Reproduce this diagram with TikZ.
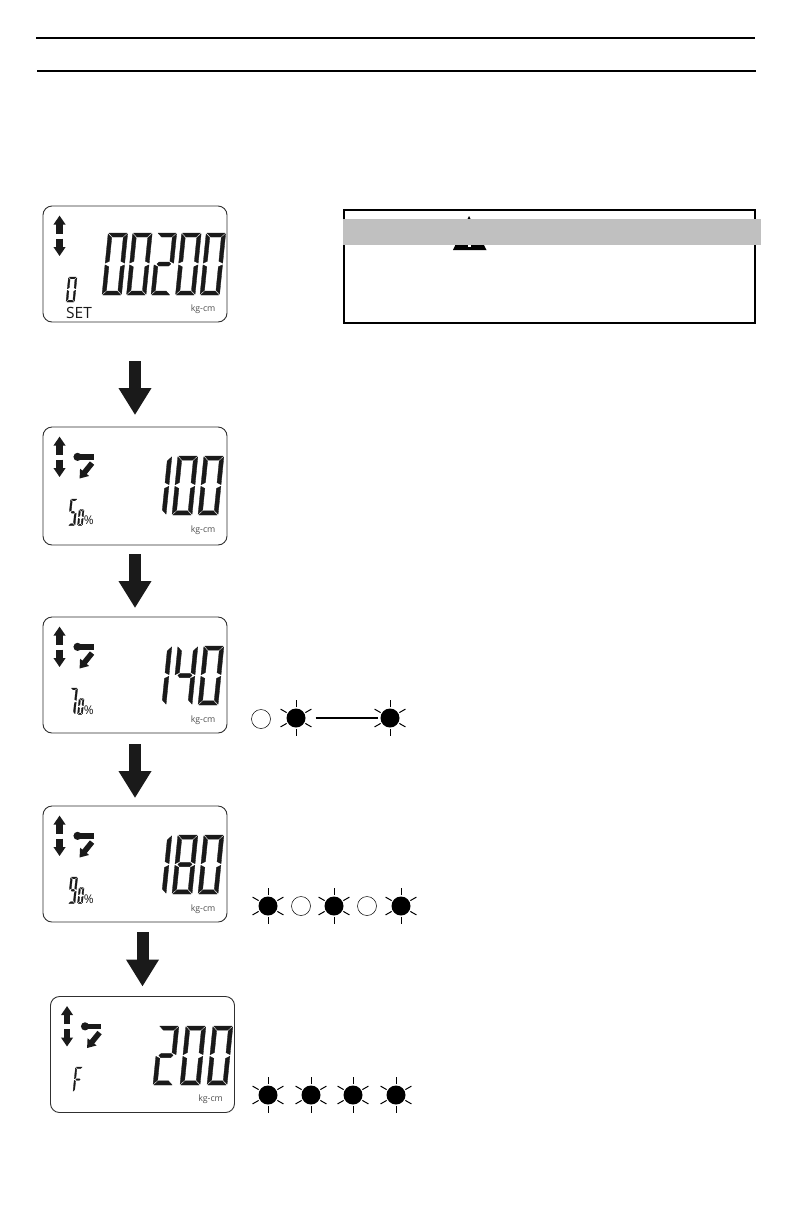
\documentclass[tikz,border=0pt]{standalone}
\usepackage{fontspec}
\setmainfont{Open Sans}
\usetikzlibrary{arrows.meta}
\definecolor{inkblack}{HTML}{1A1A1A}
\definecolor{bargray}{HTML}{C0C0C0}
\definecolor{lcdline}{HTML}{303030}
\definecolor{unitgray}{HTML}{505050}
\tikzset{
  x=1pt,y=-1pt,
  lcdbox/.style={draw=lcdline,line width=0.9pt,rounded corners=9pt,minimum width=184pt,minimum height=116pt,inner sep=0pt,fill=white},
  rule/.style={line width=2pt,black},
  bigarrow/.style={line width=12pt,inkblack,-{Triangle[width=31pt,length=27pt]}},
  tinyarrow/.style={line width=6.5pt,inkblack,-{Triangle[width=11.5pt,length=9pt]}},
  turnarrow/.style={line width=5.5pt,inkblack,-{Triangle[width=11pt,length=8pt]}},
  led/.style={circle,inner sep=0pt,minimum size=19pt},
  ledlit/.style={led,fill=black},
  ledoff/.style={led,draw=black,line width=0.5pt},
  lcdtext/.style={inner sep=0pt,anchor=base west,text=inkblack},
}
\def\dA{b,c}
\def\dB{a,b,c,d,e,f}
\def\dC{a,b,g,e,d}
\def\dD{b,c,f,g}
\def\dE{a,b,c,d,e,f,g}
\def\dF{a,b,c,d,f,g}
\def\dG{a,b,c}
\def\dH{a,f,g,c,d}
\def\dI{a,f,g,e}
\def\lsega{(\G,-\H)--(\W-\G,-\H)--(\W-\G-\T,-\H+\T)--(\G+\T,-\H+\T)--cycle}
\def\lsegd{(\G,0)--(\W-\G,0)--(\W-\G-\T,-\T)--(\G+\T,-\T)--cycle}
\def\lsegg{(\G+.5*\T,-\H/2)--(\G+\T,-\H/2-.5*\T)--(\W-\G-\T,-\H/2-.5*\T)--(\W-\G-.5*\T,-\H/2)--(\W-\G-\T,-\H/2+.5*\T)--(\G+\T,-\H/2+.5*\T)--cycle}
\def\lsegf{(0,-\H+\G)--(\T,-\H+\G+\T)--(\T,-\H/2-\G-.5*\T)--(0,-\H/2-\G)--cycle}
\def\lsege{(0,-\H/2+\G)--(\T,-\H/2+\G+.5*\T)--(\T,-\G-\T)--(0,-\G)--cycle}
\def\lsegb{(\W,-\H+\G)--(\W-\T,-\H+\G+\T)--(\W-\T,-\H/2-\G-.5*\T)--(\W,-\H/2-\G)--cycle}
\def\lsegc{(\W,-\H/2+\G)--(\W-\T,-\H/2+\G+.5*\T)--(\W-\T,-\G-\T)--(\W,-\G)--cycle}
% x of bottom left, y of bottom, width, height, thickness, segments
\newcommand\lcddigit[6]{%
  \begin{scope}[shift={(#1,#2)},xslant=0.1]
    \def\W{#3}\def\H{#4}\def\T{#5}\def\G{0.8}
    \foreach \s in #6 {%
      \expandafter\let\expandafter\cursegment\csname lseg\s\endcsname
      \filldraw[inkblack,line width=0.3pt,line join=round] \cursegment;
    }
  \end{scope}}
% up and down arrows and unit text; #1 = box name
\newcommand\lcdcommon[1]{%
  \begin{scope}[shift={(#1.north west)}]
    \coordinate (#1-ua) at (17,28); \coordinate (#1-ub) at (17,10);
    \coordinate (#1-da) at (17,33); \coordinate (#1-db) at (17,50.5);
    \draw[tinyarrow] (#1-ua) -- (#1-ub);
    \draw[tinyarrow] (#1-da) -- (#1-db);
    \node[lcdtext,font=\fontsize{8.8}{9}\selectfont,text=unitgray] (#1-unit) at (148,105.5) {kg-cm};
  \end{scope}}
\newcommand\lcdwrench[1]{%
  \begin{scope}[shift={(#1.north west)}]
    \fill[inkblack] (35,30.3) circle (4.1);
    \fill[inkblack] (35,27.5) rectangle (51,33);
    \coordinate (#1-ta) at (49.5,36.5); \coordinate (#1-tb) at (37,52);
    \draw[turnarrow] (#1-ta) -- (#1-tb);
  \end{scope}}
% percent text at box-relative position
\newcommand\lcdpct[1]{%
  \begin{scope}[shift={(#1.north west)}]
    \node[lcdtext,font=\fontsize{12}{12}\selectfont] (#1-pct) at (41,98) {\%};
  \end{scope}}
% rays of a lit LED
\newcommand\ledrays[1]{%
  \foreach \a in {30,90,150,210,270,330}
    \draw[black,line width=1pt] (#1.center) ++(\a:10.8) -- ++(\a:7);}
\begin{document}
\begin{tikzpicture}
\useasboundingbox (0,0) rectangle (792,1224);
\fill[white] (0,0) rectangle (792,1224);

% header rules
\coordinate (r1a) at (36,38); \coordinate (r1b) at (755,38);
\coordinate (r2a) at (37,71); \coordinate (r2b) at (756,71);
\draw[rule] (r1a) -- (r1b);
\draw[rule] (r2a) -- (r2b);

% warning box
\fill[black] (469,216) -- (486.5,250) -- (453,250) -- cycle;
\fill[bargray] (344,219) rectangle (761,245);
\fill[white] (467.5,245) rectangle (470.5,247);
\node[draw=black,line width=2pt,minimum width=411pt,minimum height=113pt,inner sep=0pt] (warn) at (549.5,266.5) {};
\fill[bargray] (343,219) rectangle (761,245);

% LCD boxes
\node[lcdbox] (lcd1) at (135,264) {};
\node[lcdbox,minimum height=118pt] (lcd2) at (135,486) {};
\node[lcdbox] (lcd3) at (135,675) {};
\node[lcdbox] (lcd4) at (135,864) {};
\node[lcdbox] (lcd5) at (142.5,1054.5) {};

% box 1
\lcdcommon{lcd1}
\lcddigit{102}{295}{19.5}{62}{4}{\dB}
\lcddigit{126.5}{295}{19.5}{62}{4}{\dB}
\lcddigit{151}{295}{19.5}{62}{4}{\dC}
\lcddigit{175.5}{295}{19.5}{62}{4}{\dB}
\lcddigit{200}{295}{19.5}{62}{4}{\dB}
\lcddigit{66}{302}{8.5}{25}{1.8}{\dB}
\node[lcdtext,font=\fontsize{15.5}{15.5}\selectfont] (lcd1-set) at (66,318) {SET};

% box 2
\lcdcommon{lcd2} \lcdwrench{lcd2} \lcdpct{lcd2}
\lcddigit{146}{515}{20}{59}{4.2}{\dA}
\lcddigit{172}{515}{20}{59}{4.2}{\dB}
\lcddigit{198}{515}{20}{59}{4.2}{\dB}
\lcddigit{68}{525.5}{7}{26.5}{1.8}{\dH}
\lcddigit{77.5}{525.5}{5}{16}{1.5}{\dB}

% box 3
\lcdcommon{lcd3} \lcdwrench{lcd3} \lcdpct{lcd3}
\lcddigit{146}{705}{20}{59}{4.2}{\dA}
\lcddigit{172}{705}{20}{59}{4.2}{\dD}
\lcddigit{198}{705}{20}{59}{4.2}{\dB}
\lcddigit{68}{714.5}{7}{26.5}{1.8}{\dG}
\lcddigit{77.5}{714.5}{5}{16}{1.5}{\dB}

% box 4
\lcdcommon{lcd4} \lcdwrench{lcd4} \lcdpct{lcd4}
\lcddigit{146}{894}{20}{59}{4.2}{\dA}
\lcddigit{172}{894}{20}{59}{4.2}{\dE}
\lcddigit{198}{894}{20}{59}{4.2}{\dB}
\lcddigit{68}{903.5}{7}{26.5}{1.8}{\dF}
\lcddigit{77.5}{903.5}{5}{16}{1.5}{\dB}

% box 5
\lcdcommon{lcd5} \lcdwrench{lcd5}
\lcddigit{153}{1085}{20}{59}{4.2}{\dC}
\lcddigit{180}{1085}{20}{59}{4.2}{\dB}
\lcddigit{207}{1085}{20}{59}{4.2}{\dB}
\lcddigit{73}{1092}{7.5}{25}{1.5}{\dI}

% block arrows between displays
\draw[bigarrow,shorten <=39pt,shorten >=11.5pt] (lcd1.south) -- (lcd2.north);
\draw[bigarrow,shorten <=9pt,shorten >=8.5pt] (lcd2.south) -- (lcd3.north);
\draw[bigarrow,shorten <=11pt,shorten >=7.5pt] (lcd3.south) -- (lcd4.north);
\draw[bigarrow,shorten <=10pt,shorten >=9.5pt] (lcd4.south -| lcd5.north) -- (lcd5.north);

% LEDs row 1
\node[ledoff] (a1) at (261,719) {};
\node[ledlit] (a2) at (296,718) {};
\node[ledlit] (a3) at (390,718) {};
\ledrays{a2}\ledrays{a3}
\draw[black,line width=1.3pt,shorten <=10pt,shorten >=2.5pt] (a2) -- (a3);

% LEDs row 2
\node[ledlit] (b1) at (268,906) {};
\node[ledoff] (b2) at (301,906) {};
\node[ledlit] (b3) at (334,906) {};
\node[ledoff] (b4) at (367,906) {};
\node[ledlit] (b5) at (401,906) {};
\ledrays{b1}\ledrays{b3}\ledrays{b5}

% LEDs row 3
\node[ledlit] (c1) at (268,1095) {};
\node[ledlit] (c2) at (311,1095) {};
\node[ledlit] (c3) at (353,1095) {};
\node[ledlit] (c4) at (396,1095) {};
\ledrays{c1}\ledrays{c2}\ledrays{c3}\ledrays{c4}
\end{tikzpicture}
\end{document}
